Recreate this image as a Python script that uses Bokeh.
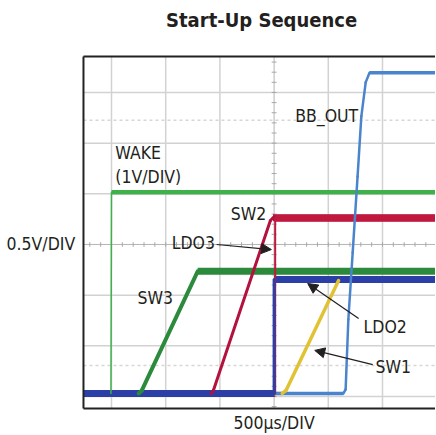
import numpy as np
from bokeh.plotting import figure
from bokeh.models import Label, Arrow, NormalHead
from bokeh.embed import file_html
from bokeh.resources import INLINE

# x in divisions (500us/DIV), y in divisions (0.5V/DIV)
X0, X1 = 0.483, 6.978      # scope screen edges (left border / window edge)
Y0, Y1 = 0.763, 7.71       # bottom / top border

wake_x = [X0, 0.99, 1.00, 7.10]
wake_y = [1.06, 1.06, 5.03, 5.03]

sw3_x = [X0, 1.50, 1.56, 2.59, 7.10]
sw3_y = [1.06, 1.06, 1.12, 3.47, 3.47]

sw2_x = [X0, 2.84, 2.88, 3.93, 3.98, 7.10]
sw2_y = [1.06, 1.06, 1.12, 4.47, 4.53, 4.53]

ldo3_x = [X0, 4.02, 4.02, 7.10]
ldo3_y = [1.06, 1.06, 4.52, 4.52]

sw1_x = [X0, 4.15, 4.22, 5.19, 7.10]
sw1_y = [1.06, 1.06, 1.12, 3.29, 3.29]

bbout_x = [X0, 5.28, 5.32, 5.37, 5.45, 5.54, 5.61, 5.69, 5.76, 7.10]
bbout_y = [1.06, 1.06, 1.14, 2.52, 3.84, 5.34, 6.53, 7.20, 7.39, 7.39]

ldo2_x = [X0, 4.00, 4.00, 7.10]
ldo2_y = [1.06, 1.06, 3.31, 3.31]

grid_x = [1, 2, 3, 5, 6]
grid_y = [1, 2, 3, 5, 6, 7]
center_x = 4
center_y = 4
cursor_y = [1.61, 6.45]

FONT = "DejaVu Sans Condensed"

p = figure(width=435, height=434, x_range=(-1.048, 6.978), y_range=(0.25, 8.815),
           output_backend="svg", toolbar_location=None,
           min_border_left=0, min_border_right=0, min_border_top=0, min_border_bottom=0)
p.axis.visible = False
p.grid.visible = False
p.outline_line_color = None
p.background_fill_color = "white"
p.border_fill_color = "white"

gx = np.asarray(grid_x, float)
gy = np.asarray(grid_y, float)
p.segment(x0=gx, y0=Y0, x1=gx, y1=Y1, line_color="#d2d2d2", line_width=1.5)
p.segment(x0=X0, y0=gy, x1=X1, y1=gy, line_color="#d2d2d2", line_width=1.5)
cy = np.asarray(cursor_y, float)
p.segment(x0=X0, y0=cy, x1=X1, y1=cy, line_color="#d6d6d6", line_width=1.5, line_dash="3 3")

# center lines with small tick marks
p.segment(x0=[center_x], y0=[Y0], x1=[center_x], y1=[Y1], line_color="#b4b4b4", line_width=1)
p.segment(x0=[X0], y0=[center_y], x1=[X1], y1=[center_y], line_color="#b4b4b4", line_width=1)
tx = np.arange(0.6, 7.0, 0.2)
p.segment(x0=tx, y0=center_y - 0.045, x1=tx, y1=center_y + 0.045, line_color="#a8a8a8", line_width=1)
ty = np.arange(0.8, 7.7, 0.2)
p.segment(x0=center_x - 0.045, y0=ty, x1=center_x + 0.045, y1=ty, line_color="#a8a8a8", line_width=1)

traces = [
    (wake_x, wake_y, "#3fb04a", 4.5, 1.5),
    (sw3_x, sw3_y, "#2c8a3c", 7.0, 4.0),
    (sw2_x, sw2_y, "#b3123e", 7.0, 3.0),
    (ldo3_x, ldo3_y, "#c0183f", 7.0, 2.0),
    (sw1_x, sw1_y, "#e2c235", 3.5, 3.5),
    (bbout_x, bbout_y, "#4a84cc", 3.5, 2.5),
    (ldo2_x, ldo2_y, "#2b3fa6", 7.0, 3.0),
]

ramps = []
for xs, ys, col, wf, wr in traces:
    xs = np.asarray(xs, float)
    ys = np.asarray(ys, float)
    dy = np.abs(np.diff(ys))
    flat = dy < 0.03
    p.segment(x0=xs[:-1][flat], y0=ys[:-1][flat], x1=xs[1:][flat], y1=ys[1:][flat],
              line_color=col, line_width=wf)
    ramps.append((xs, ys, ~flat, col, wr))
for xs, ys, m, col, wr in ramps:
    p.segment(x0=xs[:-1][m], y0=ys[:-1][m], x1=xs[1:][m], y1=ys[1:][m],
              line_color=col, line_width=wr, line_cap="round")

# frame (left, top, bottom)
p.segment(x0=[X0, X0, X0], y0=[Y0, Y1, Y0], x1=[X0, X1 + 0.1, X1 + 0.1], y1=[Y1, Y1, Y0],
          line_color="#222222", line_width=2)

def lab(x, y, t, size="17.5px", align="left", style="normal", color="#231f20"):
    p.add_layout(Label(x=x, y=y, text=t, text_font=FONT, text_font_size=size,
                       text_align=align, text_baseline="middle",
                       text_font_style=style, text_color=color))

lab(3.77, 8.44, "Start-Up Sequence", size="20px", align="center", style="bold")
lab(0.33, 4.0, "0.5V/DIV", align="right")
lab(4.0, 0.47, "500µs/DIV", align="center")
lab(1.07, 5.80, "WAKE")
lab(1.07, 5.34, "(1V/DIV)")
lab(3.20, 4.61, "SW2")
lab(4.39, 6.53, "BB_OUT")
lab(2.11, 4.02, "LDO3")
lab(1.48, 2.95, "SW3")
lab(5.65, 2.38, "LDO2")
lab(5.87, 1.59, "SW1")

for (xa, ya, xb, yb) in [(2.94, 4.00, 3.95, 3.90), (5.56, 2.54, 4.62, 3.23), (5.82, 1.63, 4.75, 1.91)]:
    p.add_layout(Arrow(x_start=xa, y_start=ya, x_end=xb, y_end=yb,
                       line_color="#231f20", line_width=1.2,
                       end=NormalHead(size=10, fill_color="#231f20", line_color="#231f20")))

open("out.html", "w").write(file_html(p, INLINE))
